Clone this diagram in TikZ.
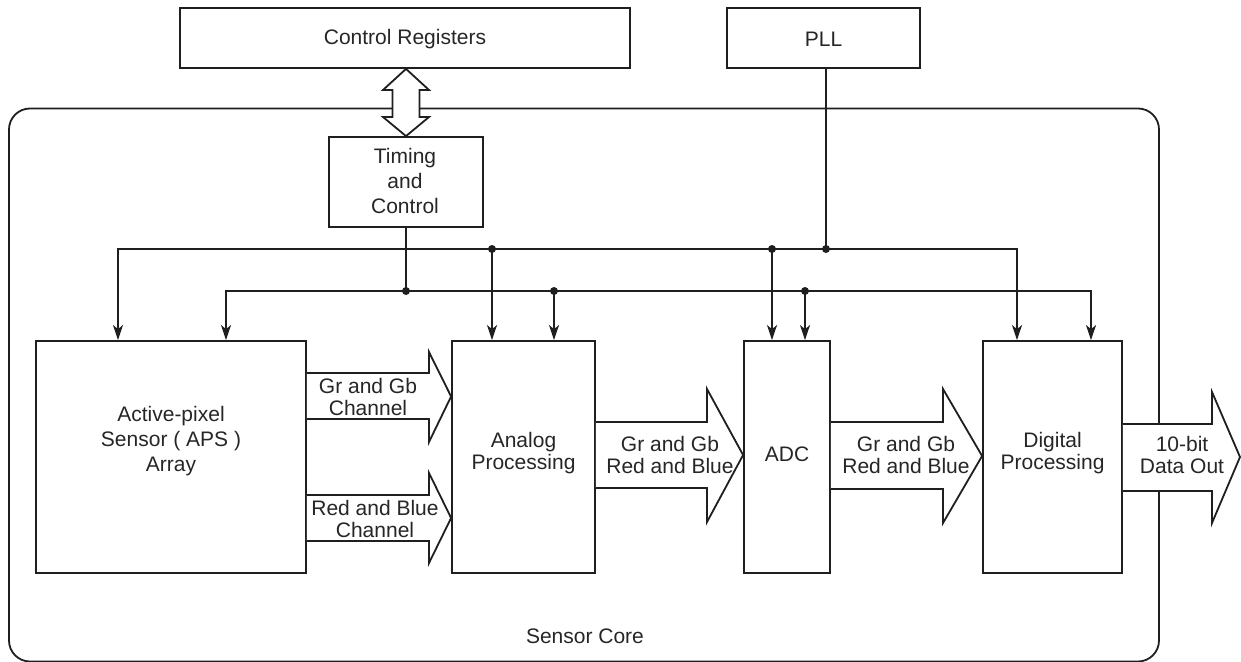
\documentclass[tikz,border=0pt]{standalone}
\usepackage{fontspec}
\setmainfont{Liberation Sans}
\usetikzlibrary{arrows.meta,calc}
\begin{document}
\begin{tikzpicture}[x=1pt,y=-1pt,
  line width=1.8pt, draw={black!88},
  box/.style={draw, rectangle, inner sep=0pt},
  lbl/.style={align=center, inner sep=0pt, font=\fontsize{21}{22}\selectfont, text={black!85}},
  arr/.style={-{Stealth[length=15pt,width=10pt,inset=4pt]}},
  arrboth/.style={{Stealth[length=15pt,width=10pt,inset=4pt]}-{Stealth[length=15pt,width=10pt,inset=4pt]}},
  fat/.style={draw, fill=white, line join=miter},
  dot/.style={circle, fill={black!88}, draw=none, inner sep=0pt, minimum size=8pt}]
\useasboundingbox (0,0) rectangle (1241,661);

% sensor core
\node[box, rounded corners=21pt, minimum width=1150pt, minimum height=553pt] (core) at (584,385) {};
\node[lbl] (corelbl) at (585,636) {Sensor Core};

% top boxes
\node[box, minimum width=450pt, minimum height=60pt] (cr) at (405,38) {};
\node[lbl] at (405,39) {Control Registers};
\node[box, minimum width=193pt, minimum height=60pt] (pll) at (823.5,38) {};
\node[lbl] at (823.5,39) {PLL};
\node[box, minimum width=154pt, minimum height=90pt] (tc) at (406,182) {};
\node[lbl, font=\fontsize{21}{25}\selectfont] at (405,181) {Timing\\and\\Control};

% main blocks
\node[box, minimum width=270pt, minimum height=232pt] (aps) at (171,457) {};
\node[lbl, font=\fontsize{21}{25}\selectfont] at (171,441) {Active-pixel\\Sensor ( APS )\\Array};
\node[box, minimum width=143pt, minimum height=232pt] (ana) at (523.5,457) {};
\node[lbl] at (523.5,453) {Analog\\Processing};
\node[box, minimum width=86pt, minimum height=232pt] (adc) at (787,457) {};
\node[lbl] at (787,454) {ADC};
\node[box, minimum width=139pt, minimum height=232pt] (dig) at (1052.5,457) {};
\node[lbl] at (1052.5,453) {Digital\\Processing};

% double arrow control registers <-> timing
\draw[fat] (tc.north) -- (383,117) -- (392.5,117) -- (392.5,90) -- (383,90)
  -- (tc.north |- cr.south) -- (429,90) -- (419.5,90) -- (419.5,117) -- (429,117) -- cycle;

% buses
\coordinate (ubL) at (118,249);
\coordinate (ubR) at (1017,249);
\coordinate (lbL) at (226,291);
\coordinate (lbR) at (1091,291);
\coordinate (pj) at (826,249);
\coordinate (tj) at (406,291);
\coordinate (u1) at (492,249);
\coordinate (u2) at (772,249);
\coordinate (l1) at (554,291);
\coordinate (l2) at (805,291);

\draw[arrboth] (ubL |- aps.north) -- (ubL) -- (ubR) -- (ubR |- dig.north);
\draw[arrboth] (lbL |- aps.north) -- (lbL) -- (lbR) -- (lbR |- dig.north);
\draw (pj |- pll.south) -- (pj);
\draw (tc.south) -- (tj);
\draw[arr] (u1) -- (u1 |- ana.north);
\draw[arr] (l1) -- (l1 |- ana.north);
\draw[arr] (u2) -- (u2 |- adc.north);
\draw[arr] (l2) -- (l2 |- adc.north);
\foreach \c in {pj,tj,u1,u2,l1,l2} \node[dot] at (\c) {};

% fat arrows
\draw[fat] (aps.east |- 0,373) -- (429,373) -- (429,352) -- (ana.west |- 0,396.5)
  -- (429,442) -- (429,419) -- (aps.east |- 0,419);
\node[lbl] at (368,397) {Gr and Gb\\Channel};
\draw[fat] (aps.east |- 0,495) -- (429,495) -- (429,473) -- (ana.west |- 0,518)
  -- (429,563) -- (429,541) -- (aps.east |- 0,541);
\node[lbl] at (375,519) {Red and Blue\\Channel};
\draw[fat] (ana.east |- 0,422) -- (707,422) -- (707,389) -- (adc.west |- 0,455)
  -- (707,522) -- (707,488) -- (ana.east |- 0,488);
\node[lbl] at (670,455) {Gr and Gb\\Red and Blue};
\draw[fat] (adc.east |- 0,422) -- (943,422) -- (943,389) -- (dig.west |- 0,456)
  -- (943,523) -- (943,489) -- (adc.east |- 0,489);
\node[lbl] at (906,455) {Gr and Gb\\Red and Blue};
\coordinate (out) at (1240,457);
\draw[fat] (dig.east |- 0,424) -- (1212,424) -- (1212,392) -- (out)
  -- (1212,523) -- (1212,491) -- (dig.east |- 0,491);
\node[lbl] at (1182,455) {10-bit\\Data Out};
\end{tikzpicture}
\end{document}
